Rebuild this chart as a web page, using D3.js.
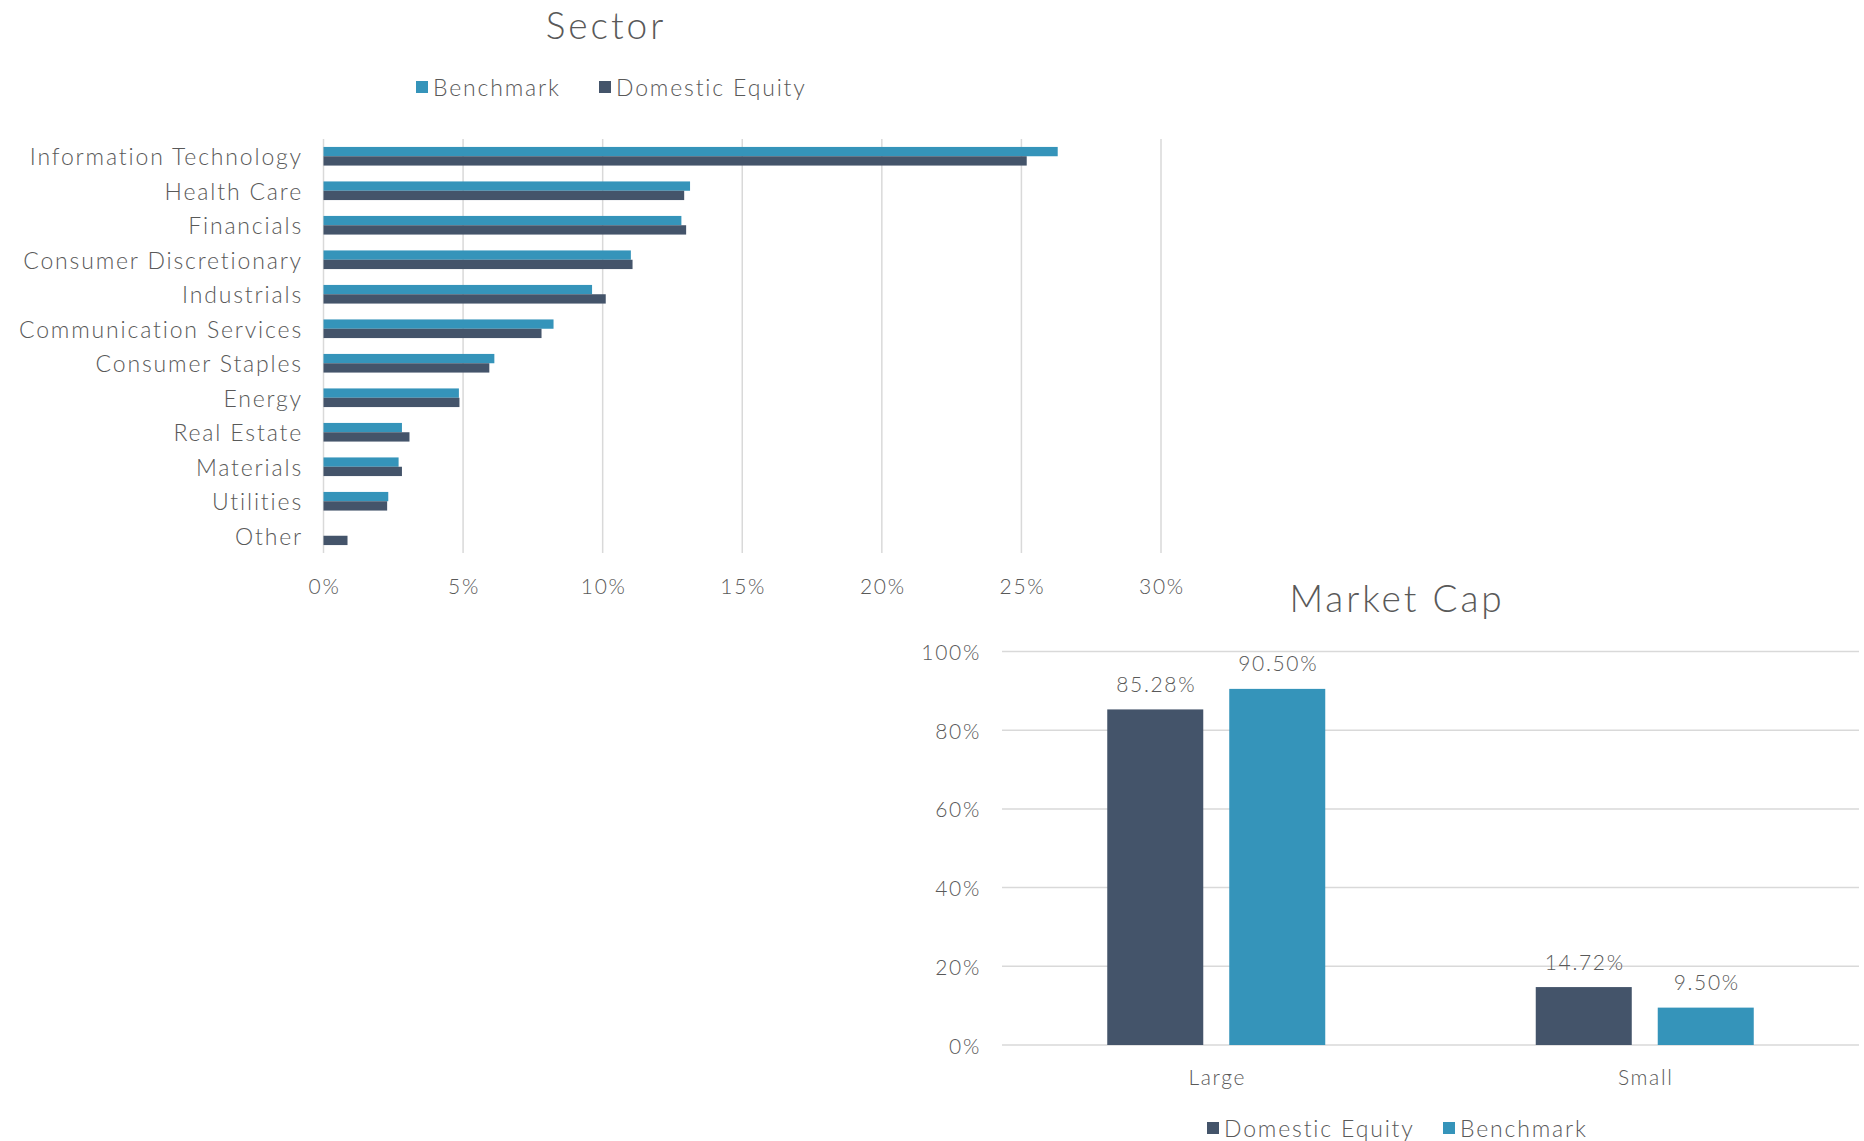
<!DOCTYPE html>
<html>
<head>
<meta charset="utf-8">
<script src="https://cdn.jsdelivr.net/npm/d3@7"></script>
<style>
  body { margin: 0; background: #fff; }
  text { font-family: Lato, "Open Sans", sans-serif; font-weight: 300; fill: #595959; letter-spacing: 0.08em; }
</style>
</head>
<body>
<svg id="chart" width="1864" height="1141"></svg>
<script>
// sector weights (%)
const sectors = ["Information Technology", "Health Care", "Financials", "Consumer Discretionary",
  "Industrials", "Communication Services", "Consumer Staples", "Energy", "Real Estate",
  "Materials", "Utilities", "Other"];
const sectorBenchmark = [26.3, 13.13, 12.82, 11.01, 9.62, 8.24, 6.12, 4.85, 2.81, 2.69, 2.32, 0];
const sectorDomestic = [25.19, 12.92, 12.99, 11.07, 10.11, 7.81, 5.94, 4.87, 3.08, 2.81, 2.28, 0.86];
const sectorTicks = [0, 5, 10, 15, 20, 25, 30];

// market cap (%)
const capCategories = ["Large", "Small"];
const capDomestic = [85.28, 14.72];
const capBenchmark = [90.50, 9.50];
const capTicks = [0, 20, 40, 60, 80, 100];

const colors = { "Benchmark": "#3594BA", "Domestic Equity": "#44546A" };
const gridColor = "#D9D9D9";

const svg = d3.select("#chart");

// ---------- Sector chart ----------
const sec = svg.append("g");

const x = d3.scaleLinear().domain([0, 30]).range([323.5, 1161]);
const y = d3.scaleBand().domain(sectors).range([139, 553]).paddingInner(0.46).paddingOuter(0.23);
const ySub = d3.scaleBand().domain(["Benchmark", "Domestic Equity"]).range([0, y.bandwidth()]);

sec.append("text")
  .attr("x", 606).attr("y", 24)
  .attr("text-anchor", "middle").attr("dominant-baseline", "central")
  .style("font-size", "37px")
  .text("Sector");

// legend
const secLegend = [
  { name: "Benchmark", x: 416 },
  { name: "Domestic Equity", x: 599 }
];
secLegend.forEach(d => {
  sec.append("rect").attr("x", d.x).attr("y", 81).attr("width", 12).attr("height", 12)
    .attr("fill", colors[d.name]);
  sec.append("text").attr("x", d.x + 17).attr("y", 87)
    .attr("dominant-baseline", "central").style("font-size", "23px").text(d.name);
});

// gridlines
sec.selectAll("line.grid").data(sectorTicks).join("line")
  .attr("x1", d => x(d)).attr("x2", d => x(d))
  .attr("y1", 139).attr("y2", 553)
  .attr("stroke", gridColor).attr("stroke-width", 1.5);

// tick labels
sec.selectAll("text.tick").data(sectorTicks).join("text")
  .attr("class", "tick")
  .attr("x", d => x(d) + 1).attr("y", 585)
  .attr("text-anchor", "middle").attr("dominant-baseline", "central")
  .style("font-size", "21px")
  .text(d => d + "%");

// category labels
sec.selectAll("text.cat").data(sectors).join("text")
  .attr("class", "cat")
  .attr("x", 303).attr("y", d => y(d) + y.bandwidth() / 2)
  .attr("text-anchor", "end").attr("dominant-baseline", "central")
  .style("font-size", "23px")
  .text(d => d);

// bars
sectors.forEach((s, i) => {
  const g = sec.append("g").attr("transform", `translate(0,${y(s)})`);
  [["Benchmark", sectorBenchmark[i]], ["Domestic Equity", sectorDomestic[i]]].forEach(([k, v]) => {
    if (v <= 0) return;
    g.append("rect")
      .attr("x", x(0)).attr("y", ySub(k))
      .attr("width", x(v) - x(0)).attr("height", ySub.bandwidth())
      .attr("fill", colors[k]);
  });
});

// ---------- Market cap chart ----------
const cap = svg.append("g");

const cx = d3.scaleBand().domain(capCategories).range([1002, 1859]);
const groupW = 218;
const cxSub = d3.scaleBand().domain(["Domestic Equity", "Benchmark"]).range([0, groupW]).paddingInner(0.213);
const cy = d3.scaleLinear().domain([0, 100]).range([1045, 651.5]);

cap.append("text")
  .attr("x", 1397).attr("y", 597)
  .attr("text-anchor", "middle").attr("dominant-baseline", "central")
  .style("font-size", "37px")
  .text("Market Cap");

cap.selectAll("line.grid").data(capTicks).join("line")
  .attr("x1", 1002).attr("x2", 1859)
  .attr("y1", d => cy(d)).attr("y2", d => cy(d))
  .attr("stroke", gridColor).attr("stroke-width", 1.5);

cap.selectAll("text.tick").data(capTicks).join("text")
  .attr("class", "tick")
  .attr("x", 981).attr("y", d => cy(d))
  .attr("text-anchor", "end").attr("dominant-baseline", "central")
  .style("font-size", "21px")
  .text(d => d + "%");

capCategories.forEach((c, i) => {
  const g = cap.append("g").attr("transform", `translate(${cx(c) + (cx.bandwidth() - groupW) / 2},0)`);
  [["Domestic Equity", capDomestic[i]], ["Benchmark", capBenchmark[i]]].forEach(([k, v]) => {
    g.append("rect")
      .attr("x", cxSub(k)).attr("y", cy(v))
      .attr("width", cxSub.bandwidth()).attr("height", cy(0) - cy(v))
      .attr("fill", colors[k]);
    g.append("text")
      .attr("x", cxSub(k) + cxSub.bandwidth() / 2 + 1).attr("y", cy(v) - 26)
      .attr("text-anchor", "middle").attr("dominant-baseline", "central")
      .style("font-size", "21px")
      .text(v.toFixed(2) + "%");
  });
  cap.append("text")
    .attr("x", cx(c) + cx.bandwidth() / 2 + 1).attr("y", 1076)
    .attr("text-anchor", "middle").attr("dominant-baseline", "central")
    .style("font-size", "21px")
    .text(c);
});

const capLegend = [
  { name: "Domestic Equity", x: 1207 },
  { name: "Benchmark", x: 1443 }
];
capLegend.forEach(d => {
  cap.append("rect").attr("x", d.x).attr("y", 1122).attr("width", 12).attr("height", 12)
    .attr("fill", colors[d.name]);
  cap.append("text").attr("x", d.x + 17).attr("y", 1128)
    .attr("dominant-baseline", "central").style("font-size", "23px").text(d.name);
});
</script>
</body>
</html>
